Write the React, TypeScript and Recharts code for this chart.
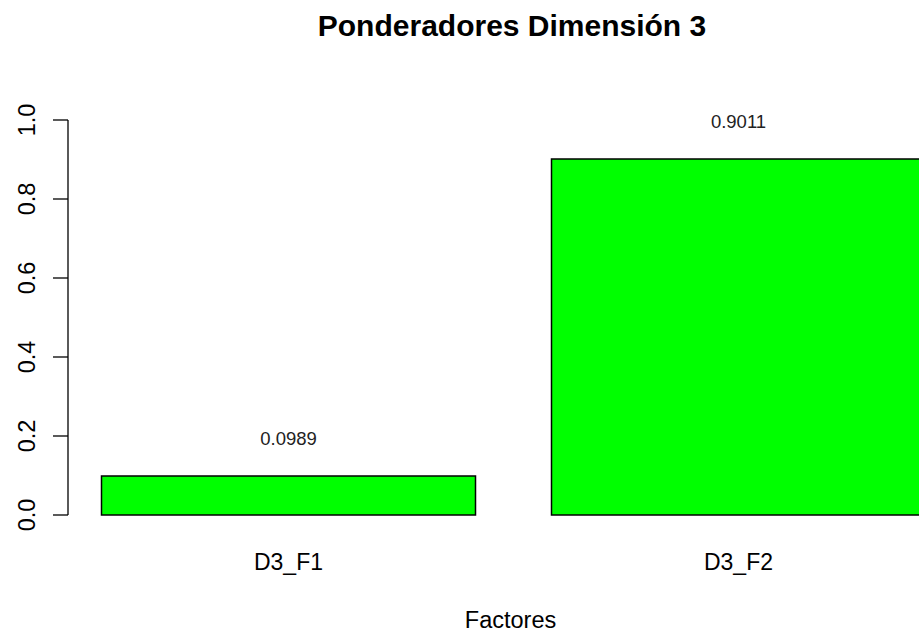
import React from "react";
import { BarChart, Bar, XAxis, YAxis, LabelList } from "recharts";

const categories = ["D3_F1", "D3_F2"];
const weights = [0.0989, 0.9011];
const yTicks = [0, 0.2, 0.4, 0.6, 0.8, 1.0];
// R barplot bar centres (width 1, space 0.2) and its 4%-extended x range
const barCenters = [0.7, 1.9];
const xDomain = [0.112, 2.488];

const data = categories.map((name, i) => ({ name, pos: barCenters[i], value: weights[i] }));

const FONT = '"Liberation Sans", Arial, sans-serif';

const YTick = (props: any) => {
  const { x, y, payload } = props;
  return (
    <text
      transform={`translate(${x},${y}) rotate(-90)`}
      textAnchor="middle"
      fontFamily={FONT}
      fontSize={23.5}
      fill="#000"
    >
      {Number(payload.value).toFixed(1)}
    </text>
  );
};

export default function App() {
  return (
    <div style={{ position: "absolute", left: 0, top: 0, width: 919, height: 633, overflow: "hidden", background: "#fff" }}>
      <div
        style={{
          position: "absolute",
          left: 0,
          top: 11,
          width: 1024,
          textAlign: "center",
          fontFamily: FONT,
          fontWeight: "bold",
          fontSize: 30,
          lineHeight: 1,
          color: "#000",
        }}
      >
        Ponderadores Dimensión 3
      </div>
      <div
        style={{
          position: "absolute",
          left: 0,
          top: 608.5,
          width: 1021,
          textAlign: "center",
          fontFamily: FONT,
          fontSize: 23.5,
          lineHeight: 1,
          color: "#000",
        }}
      >
        Factores
      </div>
      <BarChart
        width={1000}
        height={633}
        data={data}
        margin={{ top: 120, right: 41, bottom: 0, left: 0 }}
      >
        <XAxis
          type="number"
          dataKey="pos"
          domain={xDomain}
          ticks={barCenters}
          interval={0}
          allowDataOverflow
          tickFormatter={(v: number) => categories[barCenters.indexOf(v)]}
          axisLine={false}
          tickLine={false}
          tickSize={0}
          tickMargin={39}
          height={118}
          tick={{ fontSize: 23, fill: "#000", fontFamily: FONT }}
        />
        <YAxis
          type="number"
          domain={[0, 1]}
          ticks={yTicks}
          interval={0}
          width={68}
          tickSize={15}
          tickMargin={18}
          axisLine={{ stroke: "#000", strokeWidth: 1.3 }}
          tickLine={{ stroke: "#000", strokeWidth: 1.3 }}
          tick={<YTick />}
        />
        <Bar
          dataKey="value"
          fill="#00ff00"
          stroke="#000"
          strokeWidth={1.5}
          barSize={374}
          isAnimationActive={false}
        >
          <LabelList
            dataKey="value"
            position="top"
            offset={31}
            formatter={(v: any) => Number(v).toFixed(4)}
            style={{ fontSize: 18.5, fill: "#222", fontFamily: FONT }}
          />
        </Bar>
      </BarChart>
    </div>
  );
}
